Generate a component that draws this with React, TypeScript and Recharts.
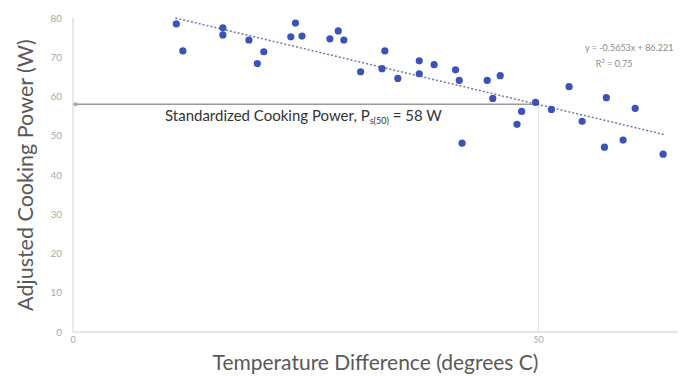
import {
  ScatterChart,
  Scatter,
  XAxis,
  YAxis,
  ReferenceLine,
  ReferenceDot,
  Label,
} from 'recharts';

// temperature difference (degrees C) for each test point
const tempDiff = [
  11.1, 11.8, 16.1, 16.1, 18.9, 20.5, 19.8, 23.9, 23.4, 24.6, 27.6, 28.5, 29.1,
  30.9, 33.2, 33.5, 34.9, 37.2, 37.2, 38.8, 41.1, 41.5, 44.5, 45.9, 45.1, 41.8,
  48.2, 47.7, 49.7, 51.4, 53.3, 54.7, 57.3, 60.4, 57.1, 59.1, 63.4,
];

// adjusted cooking power (W) for each test point
const power = [
  78.5, 71.6, 77.5, 75.7, 74.4, 71.4, 68.4, 78.7, 75.2, 75.4, 74.7, 76.7, 74.4,
  66.3, 67.1, 71.6, 64.6, 69.1, 65.8, 68.1, 66.8, 64.1, 64.1, 65.3, 59.5, 48.1,
  56.2, 52.9, 58.5, 56.7, 62.5, 53.7, 59.7, 57.0, 47.1, 48.9, 45.3,
];

const yTicks = [0, 10, 20, 30, 40, 50, 60, 70, 80];
const xTicks = [0, 50];

const slope = -0.5653;
const intercept = 86.221;
const rSquared = 0.75;
const trendX = [11, 63.5];

const standardTemp = 50;
const standardPower = 58;

const points = tempDiff.map((t, i) => ({ t, p: power[i] }));
const trendPts = trendX.map((x) => ({ x, y: slope * x + intercept }));

const font = 'Lato, "Open Sans", sans-serif';

const Dot = (props: any) => (
  <circle cx={props.cx} cy={props.cy} r={3.6} fill="#3b52b8" />
);

const StandardLabel = (props: any) => {
  const vb = props.viewBox || { x: 0, y: 0 };
  return (
    <text
      x={vb.x + 92}
      y={vb.y + 17}
      fontSize={15}
      fill="#333"
      fontFamily={font}
    >
      Standardized Cooking Power, P
      <tspan fontSize={9} dy={3}>
        s(50)
      </tspan>
      <tspan dy={-3}> = {standardPower} W</tspan>
    </text>
  );
};

const App = () => (
  <div style={{ position: 'absolute', left: 0, top: 0, width: 686, height: 376 }}>
    <ScatterChart
      width={686}
      height={376}
      margin={{ top: 18, right: 8, left: 0, bottom: 0 }}
    >
      <XAxis
        type="number"
        dataKey="t"
        domain={[0, 65]}
        ticks={xTicks}
        height={44}
        tickSize={0}
        tickMargin={5}
        axisLine={{ stroke: '#d0d0d0' }}
        tick={{ fontSize: 9, fill: '#aaa', fontFamily: font }}
      >
        <Label
          value="Temperature Difference (degrees C)"
          position="insideBottom"
          offset={6}
          style={{ fontSize: 21, fill: '#595959', fontFamily: font }}
        />
      </XAxis>
      <YAxis
        type="number"
        dataKey="p"
        domain={[0, 80]}
        ticks={yTicks}
        width={73}
        tickSize={0}
        tickMargin={11}
        axisLine={{ stroke: '#d0d0d0' }}
        tick={{ fontSize: 10, fill: '#aaa', fontFamily: font }}
      >
        <Label
          value="Adjusted Cooking Power (W)"
          angle={-90}
          position="insideLeft"
          offset={25}
          style={{
            fontSize: 21.5,
            fill: '#595959',
            fontFamily: font,
            textAnchor: 'middle',
          }}
        />
      </YAxis>
      <ReferenceLine
        segment={[
          { x: standardTemp, y: 0 },
          { x: standardTemp, y: standardPower },
        ]}
        stroke="#e2e2e2"
        strokeWidth={1}
      />
      <ReferenceLine
        segment={[
          { x: 0, y: standardPower },
          { x: standardTemp, y: standardPower },
        ]}
        stroke="#9a9a9a"
        strokeWidth={1.5}
        label={<StandardLabel />}
      />
      <ReferenceDot x={0.3} y={standardPower} r={2} fill="#aaa" stroke="none" />
      <ReferenceLine
        segment={trendPts}
        stroke="#6f7aa6"
        strokeWidth={1.5}
        strokeDasharray="2 2"
        ifOverflow="visible"
      />
      <Scatter data={points} shape={<Dot />} isAnimationActive={false} />
    </ScatterChart>
    <div
      style={{
        position: 'absolute',
        left: 585,
        top: 41,
        fontFamily: font,
        fontSize: 9,
        color: '#8a8a8a',
        lineHeight: '13px',
        whiteSpace: 'nowrap',
        textAlign: 'center',
      }}
    >
      <div>
        y = {slope}x + {intercept}
      </div>
      <div style={{ marginLeft: -30 }}>
        R<sup style={{ fontSize: 6 }}>2</sup> = {rSquared}
      </div>
    </div>
  </div>
);

export default App;
